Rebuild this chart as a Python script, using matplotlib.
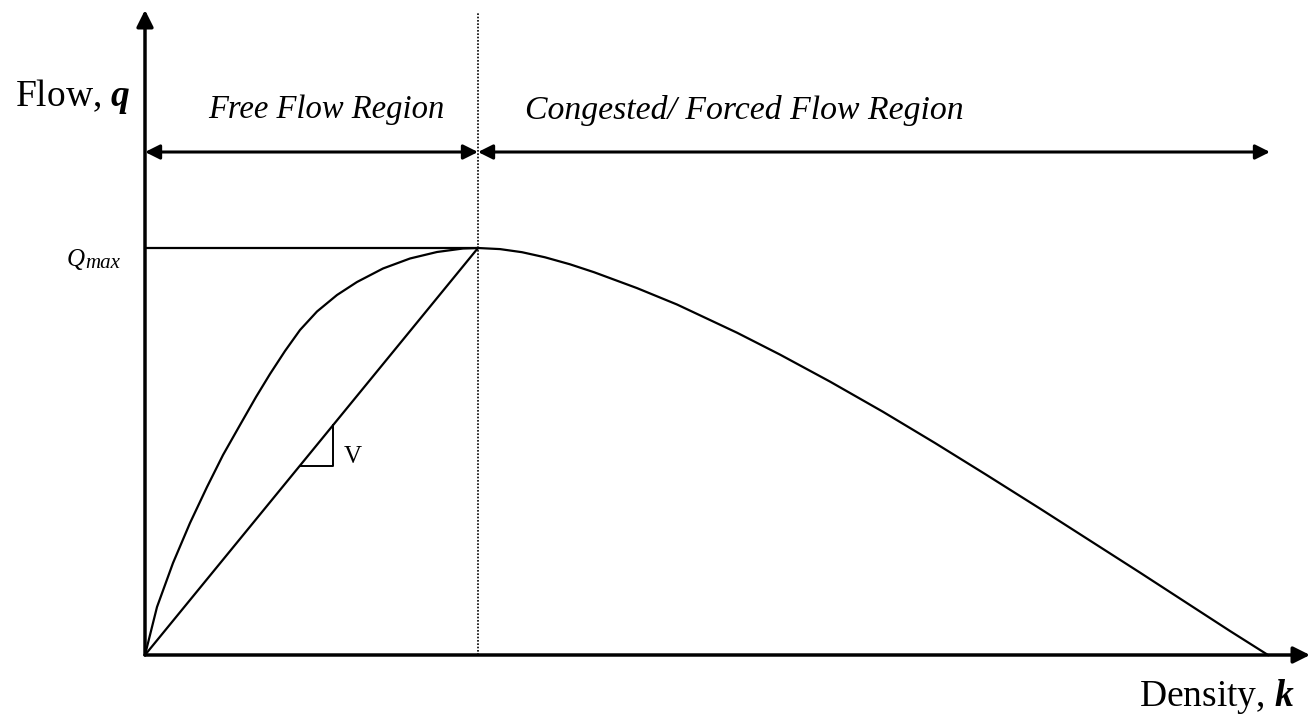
import matplotlib
matplotlib.use("Agg")
import matplotlib.pyplot as plt

plt.rcParams['mathtext.fontset'] = 'custom'
plt.rcParams['mathtext.rm'] = 'Liberation Serif'
plt.rcParams['mathtext.it'] = 'Liberation Serif:italic'
plt.rcParams['mathtext.bf'] = 'Liberation Serif:bold'
plt.rcParams['mathtext.bfit'] = 'Liberation Serif:italic:bold'
SERIF = 'Liberation Serif'

# Data (density k, flow q), arbitrary units
free_k = [0, 12, 28, 45, 62, 78, 95, 111, 125, 140, 155, 172, 192, 212, 238, 265, 292, 318, 333]
free_q = [0, 48, 92, 132, 168, 200, 230, 258, 281, 304, 325, 343.5, 360, 373, 386.5, 396.5, 403, 406.5, 407]
cong_k = [333, 355, 377, 400, 425, 449, 492, 532, 592, 635, 685, 738, 790, 841, 895, 945, 995, 1048, 1085, 1123]
cong_q = [407, 405.9, 402.8, 397.7, 390.7, 382.8, 366.9, 350.5, 322.3, 300.4, 273.4, 243.2, 212, 180.4, 146.4, 114.4, 82.4, 48, 24, 0]
k_crit = 333
q_max = 407
k_jam = 1123
k_axis_end = 1165
q_axis_end = 645
arrow_q = 503

fig = plt.figure(figsize=(13.15, 7.14), dpi=100)
ax = fig.add_axes([145/1315, 59/714, 1165/1315, 645/714])
ax.set_xlim(0, k_axis_end)
ax.set_ylim(0, q_axis_end)
ax.axis('off')

# axes with arrows
ax.annotate('', xy=(k_axis_end, 0), xytext=(0, 0),
            arrowprops=dict(arrowstyle='-|>', lw=2.5, color='black',
                            mutation_scale=25, shrinkA=0, shrinkB=0),
            annotation_clip=False)
ax.annotate('', xy=(0, q_axis_end), xytext=(0, 0),
            arrowprops=dict(arrowstyle='-|>', lw=2.5, color='black',
                            mutation_scale=25, shrinkA=0, shrinkB=0),
            annotation_clip=False)

# curves
ax.plot(free_k, free_q, color='black', lw=1.6, clip_on=False,
        solid_joinstyle='round')
ax.plot(cong_k, cong_q, color='black', lw=1.6, clip_on=False,
        solid_joinstyle='round')
ax.plot([0, k_crit], [0, q_max], color='black', lw=1.6)
ax.plot([0, k_crit], [q_max, q_max], color='black', lw=1.6)
ax.plot([k_crit, k_crit], [0, q_axis_end - 2], color='black', lw=1.2,
        linestyle=(0, (1, 1)), clip_on=False)

# slope triangle
t0 = 155
t1 = 188
ax.plot([t0, t1, t1], [t0 * q_max / k_crit, t0 * q_max / k_crit, t1 * q_max / k_crit],
        color='black', lw=1.4)
ax.text(t1 + 11, t0 * q_max / k_crit + 9, 'V', fontsize=18, family=SERIF,
        va='center', ha='left')

# region arrows
for a, b in [(0, k_crit), (k_crit, k_jam + 2)]:
    ax.annotate('', xy=(a, arrow_q), xytext=(b, arrow_q),
                arrowprops=dict(arrowstyle='<|-|>', lw=2.2, color='black',
                                mutation_scale=22, shrinkA=0, shrinkB=0),
                annotation_clip=False)

ax.text(63, 545, 'Free Flow Region', fontsize=23.5, family=SERIF,
        style='italic', ha='left', va='center')
ax.text(380, 545, 'Congested/ Forced Flow Region', fontsize=24.3,
        family=SERIF, style='italic', ha='left', va='center')

ax.text(-14, 558, r'Flow, $\mathbfit{q}$', fontsize=27, family=SERIF,
        ha='right', va='center')
ax.text(-60, 389, 'Q', fontsize=18, family=SERIF, style='italic',
        ha='right', va='baseline')
ax.text(-60, 387, 'max', fontsize=15, family=SERIF, style='italic',
        ha='left', va='baseline')
ax.text(1150, -42, r'Density, $\mathbfit{k}$', fontsize=27,
        family=SERIF, ha='right', va='center')

fig.savefig('out.png', dpi=100)
